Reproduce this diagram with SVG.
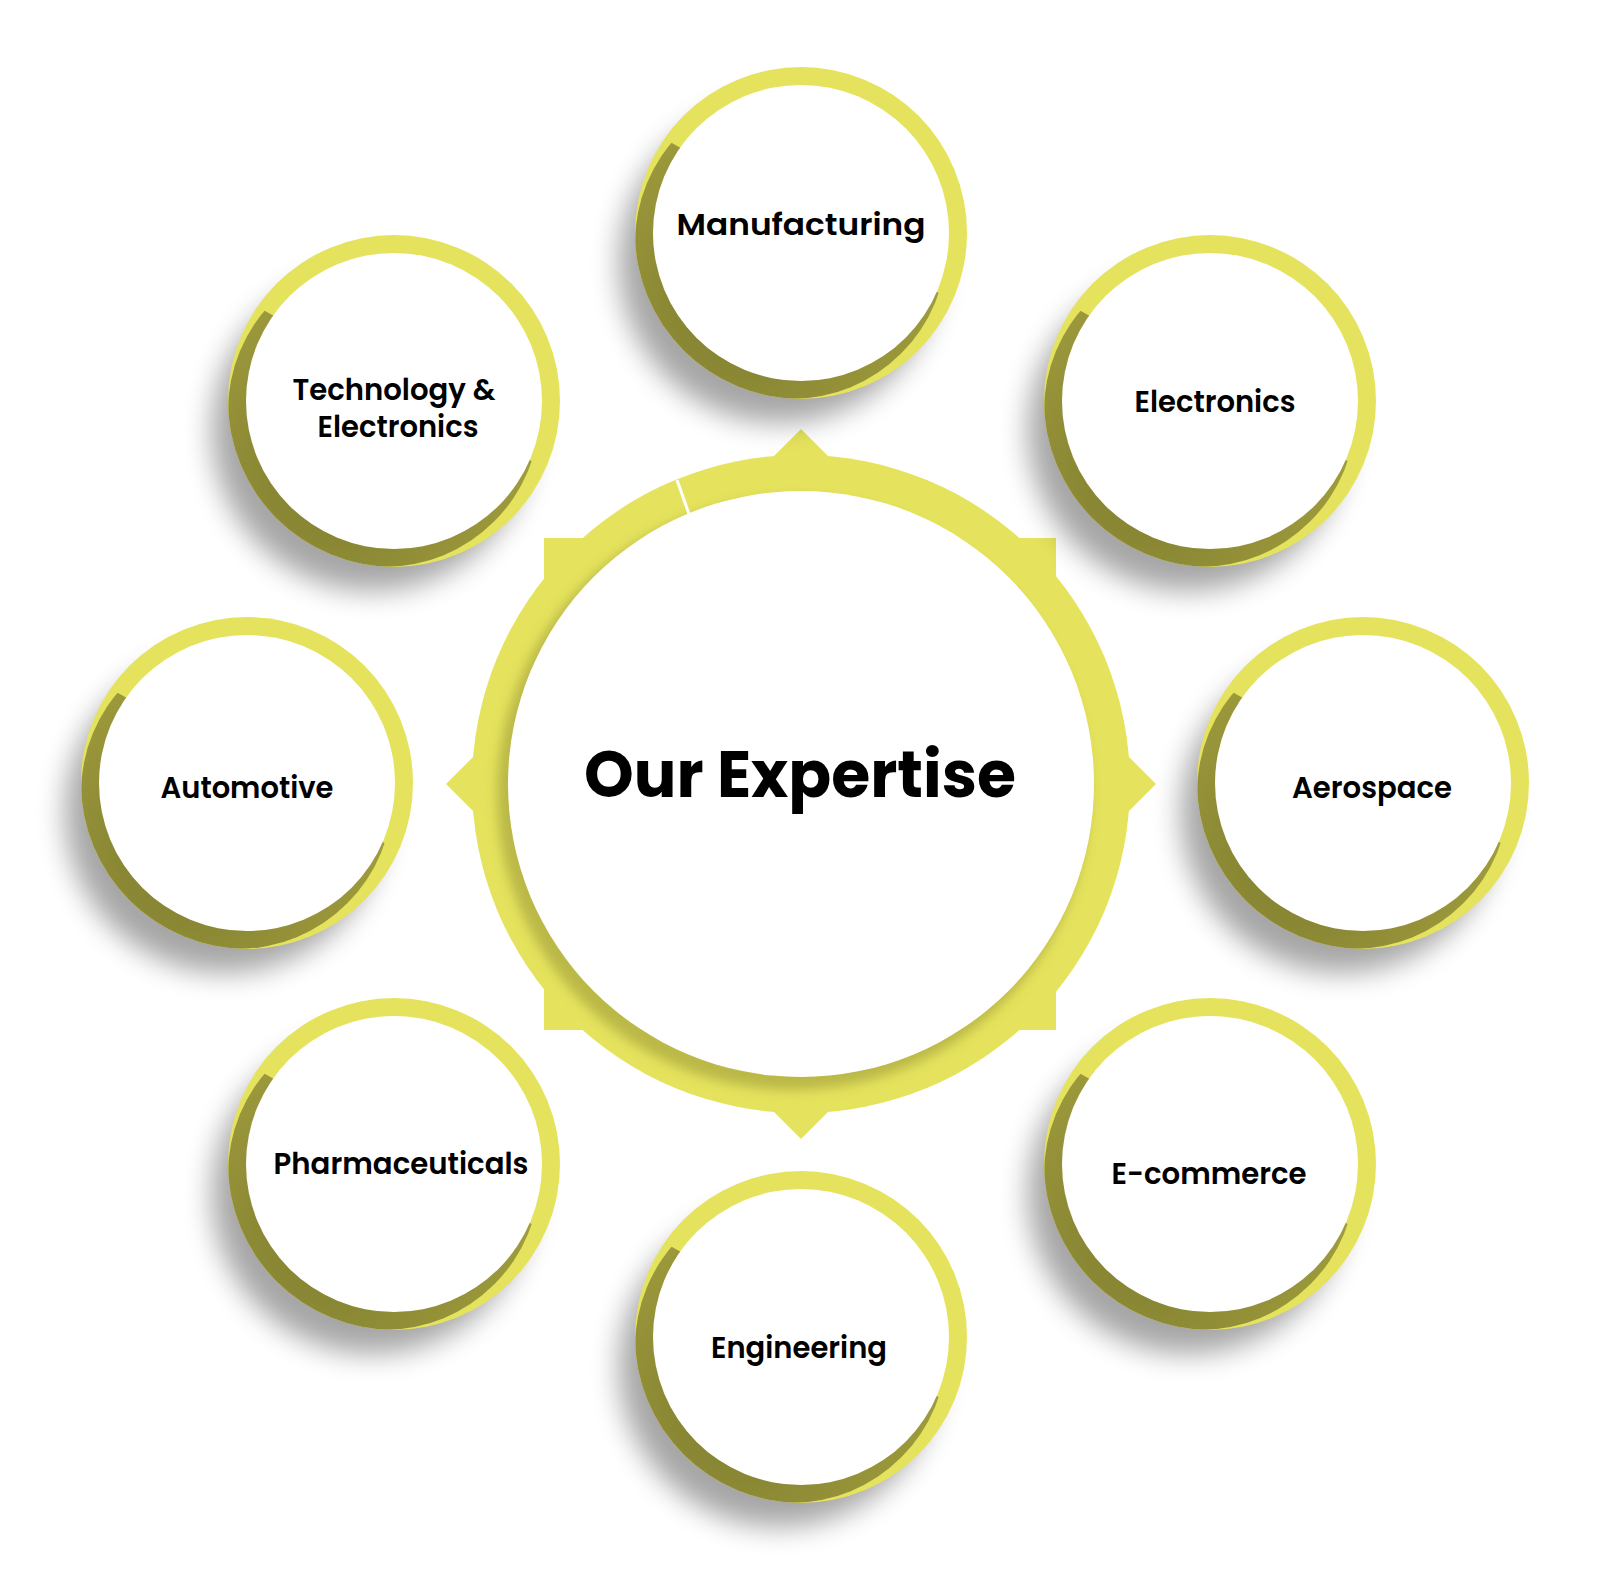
<svg xmlns="http://www.w3.org/2000/svg" width="1600" height="1576" viewBox="0 0 1600 1576">
<defs>
<filter id="blur" x="-30%" y="-30%" width="160%" height="160%"><feGaussianBlur stdDeviation="14"/></filter>
<filter id="blur2" x="-30%" y="-30%" width="160%" height="160%"><feGaussianBlur stdDeviation="6"/></filter>
<radialGradient id="dark" cx="0.35" cy="0.7" r="0.7"><stop offset="0" stop-color="#7f7c30"/><stop offset="1" stop-color="#a3a03e"/></radialGradient>
<clipPath id="sc"><circle cx="0" cy="0" r="166"/></clipPath>
<clipPath id="half"><polygon points="-200,-130 200,95 200,200 -200,200"/></clipPath>
<clipPath id="cc"><circle cx="801" cy="784" r="329"/></clipPath>
<g id="sat">
<circle cx="-22" cy="30" r="160" fill="#000" opacity="0.35" filter="url(#blur)"/>
<circle cx="0" cy="0" r="166" fill="#e5e35d"/>
<g clip-path="url(#sc)"><g clip-path="url(#half)"><circle cx="-10" cy="10" r="156" fill="url(#dark)"/></g></g>
<circle cx="0" cy="0" r="148" fill="#fff"/>
</g>
</defs>
<style>
text{font-family:Poppins,"Inter","Liberation Sans",sans-serif;font-weight:600;fill:#000;text-anchor:middle}
.s{font-size:30px}
.c{font-size:66px;font-weight:700}
</style>
<rect width="1600" height="1576" fill="#fff"/>
<g id="center">
<rect x="544" y="538" width="512" height="492" fill="#e5e35d"/>
<polygon points="801,429 1156,784 801,1139 446,784" fill="#e5e35d"/>
<circle cx="801" cy="784" r="329" fill="#e5e35d"/>
<g clip-path="url(#cc)"><circle cx="793" cy="794" r="296" fill="#9e9b3a" opacity="0.6" filter="url(#blur2)"/></g>
<line x1="677" y1="480" x2="689" y2="514" stroke="#fff" stroke-width="3"/>
<circle cx="801" cy="784" r="293" fill="#fff"/>
<text class="c" x="800" y="797" textLength="432" lengthAdjust="spacingAndGlyphs">Our Expertise</text>
</g>
<g id="n-manufacturing"><use href="#sat" x="801" y="233"/><text class="s" x="801" y="235" textLength="249" lengthAdjust="spacingAndGlyphs">Manufacturing</text></g>
<g id="n-tech"><use href="#sat" x="394" y="401"/><text class="s" x="394" y="400" textLength="203" lengthAdjust="spacingAndGlyphs">Technology &amp;</text><text class="s" x="398" y="437" textLength="161" lengthAdjust="spacingAndGlyphs">Electronics</text></g>
<g id="n-electronics"><use href="#sat" x="1210" y="401"/><text class="s" x="1215" y="412" textLength="161" lengthAdjust="spacingAndGlyphs">Electronics</text></g>
<g id="n-automotive"><use href="#sat" x="247" y="783"/><text class="s" x="247" y="798" textLength="173" lengthAdjust="spacingAndGlyphs">Automotive</text></g>
<g id="n-aerospace"><use href="#sat" x="1363" y="783"/><text class="s" x="1372" y="798" textLength="160" lengthAdjust="spacingAndGlyphs">Aerospace</text></g>
<g id="n-pharma"><use href="#sat" x="394" y="1164"/><text class="s" x="401" y="1174" textLength="255" lengthAdjust="spacingAndGlyphs">Pharmaceuticals</text></g>
<g id="n-ecommerce"><use href="#sat" x="1210" y="1164"/><text class="s" x="1209" y="1184" textLength="195" lengthAdjust="spacingAndGlyphs">E-commerce</text></g>
<g id="n-engineering"><use href="#sat" x="801" y="1337"/><text class="s" x="799" y="1358" textLength="176" lengthAdjust="spacingAndGlyphs">Engineering</text></g>
<g id="connectors"/>
</svg>
